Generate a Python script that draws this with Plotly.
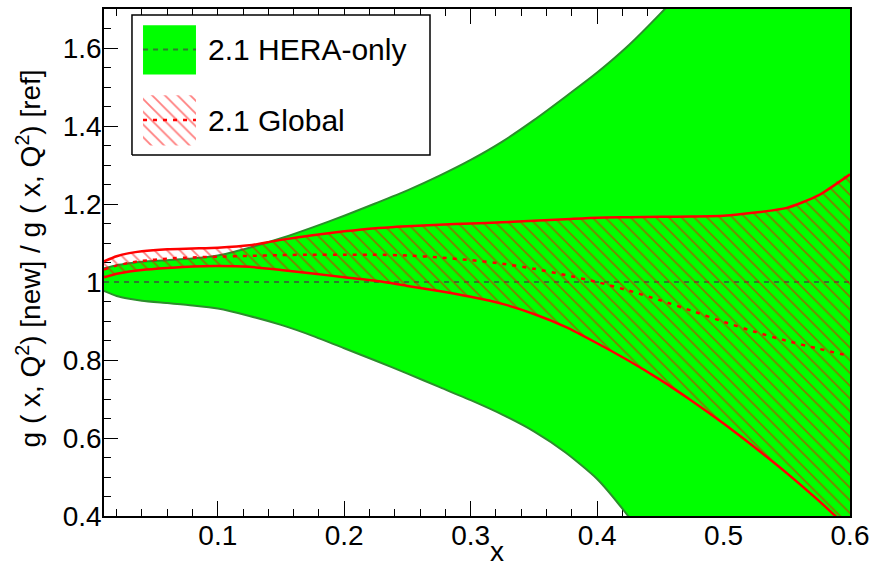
import plotly.graph_objects as go

# ---------------- data ----------------
x_grid = [0.01, 0.02, 0.03, 0.04, 0.06, 0.08, 0.10, 0.125, 0.15, 0.175, 0.20,
          0.225, 0.25, 0.275, 0.30, 0.325, 0.35, 0.375, 0.40, 0.425, 0.45,
          0.475, 0.50, 0.525, 0.55, 0.575, 0.60]

hera_upper = [1.035, 1.043, 1.048, 1.052, 1.056, 1.060, 1.068, 1.088, 1.112, 1.140, 1.170,
              1.202, 1.235, 1.272, 1.313, 1.360, 1.415, 1.475, 1.537, 1.607, 1.688,
              1.775, 1.865, 1.965, 2.070, 2.180, 2.300]
hera_lower = [0.977, 0.964, 0.957, 0.952, 0.946, 0.940, 0.932, 0.913, 0.890, 0.862, 0.830,
              0.798, 0.765, 0.731, 0.697, 0.660, 0.617, 0.563, 0.495, 0.398, 0.285,
              0.160, 0.025, -0.120, -0.270, -0.430, -0.600]
hera_central = [1.0] * len(x_grid)

glob_upper = [1.053, 1.066, 1.074, 1.079, 1.084, 1.086, 1.088, 1.094, 1.108, 1.120, 1.130,
              1.138, 1.143, 1.147, 1.150, 1.153, 1.157, 1.161, 1.165, 1.166, 1.167,
              1.168, 1.170, 1.178, 1.190, 1.222, 1.276]
glob_lower = [1.012, 1.021, 1.027, 1.031, 1.036, 1.040, 1.041, 1.039, 1.031, 1.022, 1.012,
              1.003, 0.990, 0.977, 0.962, 0.944, 0.918, 0.885, 0.843, 0.798, 0.749,
              0.695, 0.637, 0.575, 0.510, 0.440, 0.365]
glob_central = [1.032, 1.042, 1.049, 1.054, 1.060, 1.063, 1.065, 1.067, 1.069, 1.070, 1.070,
                1.070, 1.068, 1.063, 1.056, 1.047, 1.034, 1.018, 1.000, 0.978, 0.953,
                0.926, 0.898, 0.872, 0.849, 0.829, 0.810]

legend_labels = ["2.1 HERA-only", "2.1 Global"]
x_tick_vals = [0.1, 0.2, 0.3, 0.4, 0.5, 0.6]
y_tick_vals = [0.4, 0.6, 0.8, 1.0, 1.2, 1.4, 1.6]

# ---------------- styles ----------------
GREEN_FILL = "#00ff00"
GREEN_EDGE = "#2b8f2b"
GREEN_DASH = "#2f7a2f"
RED = "#ff0000"
FONT = "Liberation Sans, Arial, Helvetica, sans-serif"
SPL = dict(shape="spline", smoothing=0.6)

fig = go.Figure()

# HERA-only band
fig.add_trace(go.Scatter(
    x=x_grid + x_grid[::-1], y=hera_upper + hera_lower[::-1],
    fill="toself", fillcolor=GREEN_FILL, mode="lines",
    line=dict(width=0, **SPL), hoverinfo="skip", showlegend=False))
for arr in (hera_upper, hera_lower):
    fig.add_trace(go.Scatter(x=x_grid, y=arr, mode="lines",
                             line=dict(color=GREEN_EDGE, width=2, **SPL),
                             showlegend=False))
fig.add_trace(go.Scatter(x=x_grid, y=hera_central, mode="lines",
                         line=dict(color=GREEN_DASH, width=2, dash="5px,5px"),
                         showlegend=False))

# Global band (hatched)
fig.add_trace(go.Scatter(
    x=x_grid + x_grid[::-1], y=glob_upper + glob_lower[::-1],
    fill="toself", fillcolor="rgba(0,0,0,0)", mode="lines",
    fillpattern=dict(shape="\\", fgcolor=RED, bgcolor="rgba(0,0,0,0)", size=9, solidity=0.2),
    line=dict(width=0, **SPL), hoverinfo="skip", showlegend=False))
for arr in (glob_upper, glob_lower):
    fig.add_trace(go.Scatter(x=x_grid, y=arr, mode="lines",
                             line=dict(color=RED, width=2.5, **SPL),
                             showlegend=False))
fig.add_trace(go.Scatter(x=x_grid, y=glob_central, mode="lines",
                         line=dict(color=RED, width=2.5, dash="4px,6px", **SPL),
                         showlegend=False))

# ---------------- legend (drawn on an overlay paper-like axis) ----------------
L = dict(xaxis="x2", yaxis="y2", hoverinfo="skip", showlegend=False)
bx0, bx1, by0, by1 = 0.0375, 0.437, 0.712, 0.988
fig.add_trace(go.Scatter(x=[bx0, bx1, bx1, bx0, bx0], y=[by0, by0, by1, by1, by0],
                         fill="toself", fillcolor="white", mode="lines",
                         line=dict(color="black", width=1.5), **L))
sx0, sx1 = 0.0523, 0.1233
g0, g1, gm = 0.871, 0.968, 0.920
h0, h1, hm = 0.731, 0.830, 0.781
fig.add_trace(go.Scatter(x=[sx0, sx1, sx1, sx0, sx0], y=[g0, g0, g1, g1, g0],
                         fill="toself", fillcolor=GREEN_FILL, mode="lines",
                         line=dict(width=0), **L))
fig.add_trace(go.Scatter(x=[sx0, sx1], y=[gm, gm], mode="lines",
                         line=dict(color=GREEN_DASH, width=2, dash="5px,5px"), **L))
fig.add_trace(go.Scatter(x=[sx0, sx1, sx1, sx0, sx0], y=[h0, h0, h1, h1, h0],
                         fill="toself", fillcolor="rgba(0,0,0,0)", mode="lines",
                         fillpattern=dict(shape="\\", fgcolor=RED, bgcolor="rgba(0,0,0,0)",
                                          size=9, solidity=0.2),
                         line=dict(width=0), **L))
fig.add_trace(go.Scatter(x=[sx0, sx1], y=[hm, hm], mode="lines",
                         line=dict(color=RED, width=2.5, dash="4px,6px"), **L))

annotations = [
    dict(x=0.137, y=gm, xref="x2", yref="y2", text=legend_labels[0], showarrow=False,
         xanchor="left", yanchor="middle", font=dict(family=FONT, size=30, color="black")),
    dict(x=0.137, y=hm, xref="x2", yref="y2", text=legend_labels[1], showarrow=False,
         xanchor="left", yanchor="middle", font=dict(family=FONT, size=30, color="black")),
    dict(x=-0.1005, y=0.508, xref="paper", yref="paper", textangle=-90,
         text="g ( x, Q<sup>2</sup>) [new] / g ( x, Q<sup>2</sup>) [ref]", showarrow=False,
         xanchor="center", yanchor="middle", font=dict(family=FONT, size=28, color="black")),
    dict(x=0.527, y=-0.036, xref="paper", yref="paper", text="x", showarrow=False,
         xanchor="center", yanchor="top", font=dict(family=FONT, size=28, color="black")),
]

axis_common = dict(showgrid=False, zeroline=False, showline=True, linecolor="black",
                   linewidth=1.5, mirror="ticks", ticks="inside", tickcolor="black",
                   tickwidth=1.2, layer="below traces", automargin=False,
                   tickfont=dict(family=FONT, size=28, color="black"))

fig.update_layout(
    width=872, height=565,
    margin=dict(l=104, r=22, t=9, b=49, autoexpand=False),
    paper_bgcolor="white", plot_bgcolor="white",
    showlegend=False,
    annotations=annotations,
    xaxis=dict(range=[0.01, 0.6], tickvals=x_tick_vals, ticklen=15, ticklabelstandoff=-6,
               minor=dict(ticks="inside", ticklen=7, dtick=0.02, tick0=0, tickcolor="black",
                          tickwidth=1.2, showgrid=False),
               **axis_common),
    yaxis=dict(range=[0.4, 1.7], tickvals=y_tick_vals, ticklen=14, ticklabelstandoff=-5,
               minor=dict(ticks="inside", ticklen=7, dtick=0.05, tick0=0, tickcolor="black",
                          tickwidth=1.2, showgrid=False),
               **axis_common),
    xaxis2=dict(overlaying="x", range=[0, 1], visible=False, domain=[0, 1]),
    yaxis2=dict(overlaying="y", range=[0, 1], visible=False, domain=[0, 1]),
)

fig.write_html("out.html",
               config={"displayModeBar": False},
               post_script="document.body.style.margin='0';document.body.style.padding='0';"
                           "document.body.style.overflow='hidden';")
